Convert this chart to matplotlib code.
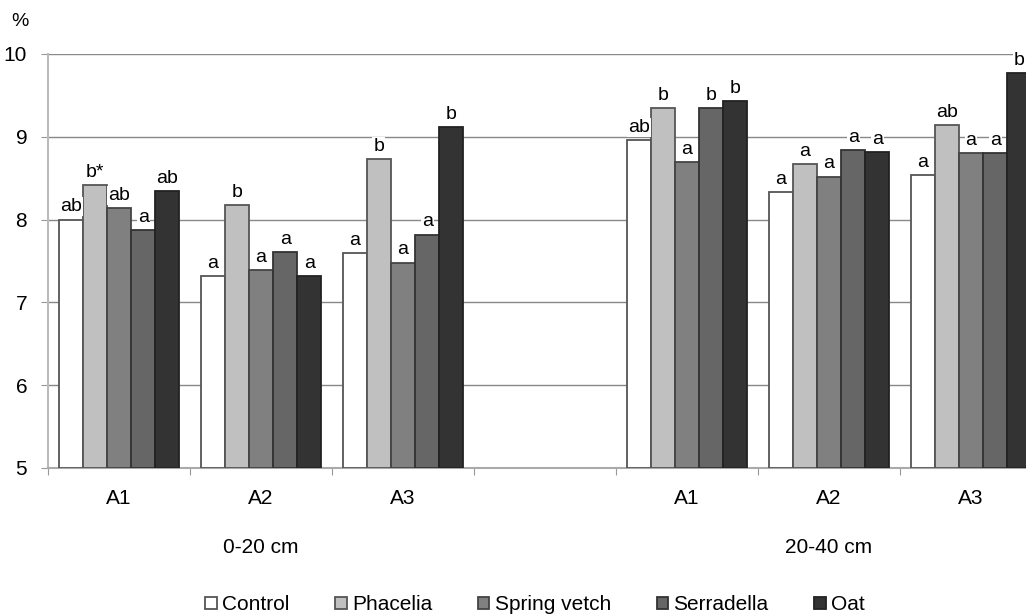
import matplotlib
matplotlib.use("Agg")
import matplotlib.pyplot as plt
import matplotlib.transforms as mtransforms
import numpy as np

plt.rcParams["font.family"] = ["Liberation Sans", "DejaVu Sans"]

TREATMENTS = ["Control", "Phacelia", "Spring vetch", "Serradella", "Oat"]
COLORS = ["#ffffff", "#c0c0c0", "#808080", "#666666", "#333333"]
EDGES = ["#555555", "#555555", "#444444", "#333333", "#222222"]

CATEGORIES = ["A1", "A2", "A3", "", "A1", "A2", "A3"]
DEPTHS = ["0-20 cm", "20-40 cm"]

# one list per treatment, order: 0-20 A1..A3, gap, 20-40 A1..A3
control = [8.00, 7.32, 7.60, None, 8.96, 8.33, 8.54]
phacelia = [8.42, 8.18, 8.73, None, 9.35, 8.67, 9.14]
spring_vetch = [8.14, 7.39, 7.48, None, 8.69, 8.52, 8.80]
serradella = [7.87, 7.61, 7.82, None, 9.35, 8.84, 8.80]
oat = [8.34, 7.32, 9.12, None, 9.43, 8.82, 9.77]

letters_control = ["ab", "a", "a", None, "ab", "a", "a"]
letters_phacelia = ["b*", "b", "b", None, "b", "a", "ab"]
letters_vetch = ["ab", "a", "a", None, "a", "a", "a"]
letters_serradella = ["a", "a", "a", None, "b", "a", "a"]
letters_oat = ["ab", "a", "b", None, "b", "a", "b"]

values = [control, phacelia, spring_vetch, serradella, oat]
letters = [letters_control, letters_phacelia, letters_vetch,
           letters_serradella, letters_oat]

fig = plt.figure(figsize=(10.26, 6.15), dpi=100)
ax = fig.add_axes([48 / 1026, 1 - 468 / 615, (1042 - 48) / 1026, (468 - 54) / 615])

BASE = 5
width = 0.17
x = np.arange(len(CATEGORIES)) + 0.5
for i, (name, vals, labs) in enumerate(zip(TREATMENTS, values, letters)):
    idx = [k for k, v in enumerate(vals) if v is not None]
    xs = x[idx] + (i - 2) * width
    hs = [vals[k] - BASE for k in idx]
    ax.bar(xs, hs, width=width, bottom=BASE, color=COLORS[i], edgecolor=EDGES[i],
           linewidth=1.3, label=name, zorder=3)
    for xx, k in zip(xs, idx):
        ax.annotate(labs[k], (xx, vals[k]), xytext=(0, 3), textcoords="offset points",
                    ha="center", va="bottom", fontsize=14, zorder=4,
                    bbox=dict(boxstyle="square,pad=0.05", fc="white", ec="none"))

ax.set_ylim(5, 10)
ax.set_xlim(0, len(CATEGORIES))
ax.set_yticks([5, 6, 7, 8, 9, 10])
ax.yaxis.grid(True, color="#888888", linewidth=1.0, zorder=0)
ax.set_axisbelow(True)

ax.set_xticks(np.arange(len(CATEGORIES) + 1))
ax.set_xticklabels([])
ax.set_xticks(x, minor=True)
ax.set_xticklabels(CATEGORIES, minor=True)
ax.tick_params(axis="x", which="major", length=5, color="#999999", direction="out")
ax.tick_params(axis="x", which="minor", length=0, pad=15, labelsize=15)
ax.tick_params(axis="y", length=5, color="#999999", pad=10, labelsize=15)

for s in ["top", "right"]:
    ax.spines[s].set_visible(False)
ax.spines["left"].set_color("#bbbbbb")
ax.spines["left"].set_linewidth(1.5)
ax.spines["bottom"].set_color("#aaaaaa")
ax.spines["bottom"].set_linewidth(1.5)

trans = mtransforms.blended_transform_factory(ax.transData, ax.transAxes)
ax.text(1.5, -0.193, DEPTHS[0], transform=trans, ha="center", va="center", fontsize=15)
ax.text(5.5, -0.193, DEPTHS[1], transform=trans, ha="center", va="center", fontsize=15)

fig.text(20 / 1026, 1 - 22 / 615, "%", ha="center", va="center", fontsize=14)

fig.legend(loc="center", bbox_to_anchor=(535 / 1026, 1 - 605 / 615), ncol=5,
           frameon=False, fontsize=15, handlelength=0.55, handleheight=0.55,
           handletextpad=0.25, columnspacing=2.2)

fig.savefig("out.png", dpi=100)
